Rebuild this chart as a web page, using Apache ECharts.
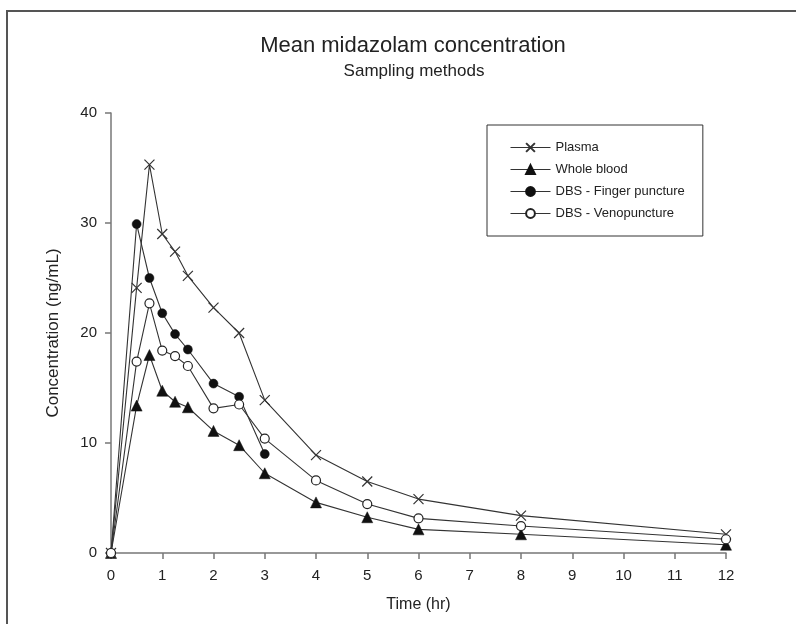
<!DOCTYPE html>
<html>
<head>
<meta charset="utf-8">
<script src="https://cdn.jsdelivr.net/npm/echarts@6/dist/echarts.min.js"></script>
<style>
html,body{margin:0;padding:0;background:#fff;}
#chart{width:796px;height:624px;}
</style>
</head>
<body>
<div id="chart"></div>
<script>
const seriesNames = ['Plasma', 'Whole blood', 'DBS - Finger puncture', 'DBS - Venopuncture'];
const timesFull = [0, 0.5, 0.75, 1, 1.25, 1.5, 2, 2.5, 3, 4, 5, 6, 8, 12];
const timesFinger = [0, 0.5, 0.75, 1, 1.25, 1.5, 2, 2.5, 3];
const plasma = [0, 24.1, 35.3, 29.0, 27.4, 25.2, 22.3, 20.0, 13.9, 8.9, 6.5, 4.9, 3.4, 1.7];
const wholeBlood = [0, 13.4, 18.0, 14.75, 13.75, 13.25, 11.1, 9.8, 7.25, 4.6, 3.25, 2.15, 1.7, 0.75];
const dbsFinger = [0, 29.9, 25.0, 21.8, 19.9, 18.5, 15.4, 14.2, 9.0];
const dbsVeno = [0, 17.4, 22.7, 18.4, 17.9, 17.0, 13.15, 13.5, 10.4, 6.6, 4.45, 3.15, 2.45, 1.25];
const xTicks = [0,1,2,3,4,5,6,7,8,9,10,11,12];
const yTicks = [0,10,20,30,40];

function pairs(xs, ys){ return xs.map((x,i)=>[x, ys[i]]); }

const FONT = 'Liberation Sans, Arial, Helvetica, sans-serif';
const LINE = '#333';
const chart = echarts.init(document.getElementById('chart'), null, {renderer:'canvas'});

const crossPath = 'path://M0,0L10,10M10,0L0,10';

chart.setOption({
  animation: false,
  backgroundColor: '#fff',
  textStyle: {fontFamily: FONT},
  title: [{
    text: 'Mean midazolam concentration',
    left: 408, top: 30, textAlign: 'center',
    textStyle: {fontFamily: FONT, fontSize: 22, fontWeight: 'normal', color: '#222'}
  },{
    text: 'Sampling methods',
    left: 409, top: 58, textAlign: 'center',
    textStyle: {fontFamily: FONT, fontSize: 17, fontWeight: 'normal', color: '#222'}
  }],
  graphic: [{
    type: 'rect', silent: true,
    shape: {x: 7, y: 11, width: 900, height: 700},
    style: {fill: 'none', stroke: '#555', lineWidth: 2}
  }],
  legend: {
    orient: 'vertical',
    left: 487, top: 125,
    padding: [16, 18, 16, 23],
    itemGap: 9,
    itemWidth: 40, itemHeight: 11,
    borderColor: '#333', borderWidth: 1,
    lineStyle: {width: 1},
    textStyle: {fontFamily: FONT, fontSize: 13, color: '#222'},
    data: seriesNames
  },
  grid: {left: 111, right: 70, top: 113, bottom: 71, containLabel: false},
  xAxis: {
    type: 'value', min: 0, max: 12, interval: 1,
    name: 'Time (hr)', nameLocation: 'middle', nameGap: 44,
    nameTextStyle: {fontFamily: FONT, fontSize: 16, color: '#222'},
    axisLine: {show: true, lineStyle: {color: '#777', width: 1.5}},
    axisTick: {show: true, inside: false, length: 6, lineStyle: {color: '#777', width: 1.5}},
    axisLabel: {fontFamily: FONT, fontSize: 15, color: '#222', margin: 15,
      formatter: v => xTicks.includes(v) ? String(v) : ''},
    splitLine: {show: false}
  },
  yAxis: {
    type: 'value', min: 0, max: 40, interval: 10,
    name: 'Concentration (ng/mL)', nameLocation: 'middle', nameGap: 49, nameRotate: 90,
    nameTextStyle: {fontFamily: FONT, fontSize: 17, color: '#222'},
    axisLine: {show: true, lineStyle: {color: '#777', width: 1.5}},
    axisTick: {show: true, inside: false, length: 6, lineStyle: {color: '#777', width: 1.5}},
    axisLabel: {fontFamily: FONT, fontSize: 15, color: '#222', margin: 14,
      formatter: v => yTicks.includes(v) ? String(v) : ''},
    splitLine: {show: false}
  },
  series: [{
    name: seriesNames[0], type: 'line', data: pairs(timesFull, plasma),
    symbol: crossPath, symbolSize: 10,
    lineStyle: {color: LINE, width: 1.1},
    itemStyle: {color: LINE, borderColor: LINE, borderWidth: 1.2},
    z: 4
  },{
    name: seriesNames[1], type: 'line', data: pairs(timesFull, wholeBlood),
    symbol: 'triangle', symbolSize: 11,
    lineStyle: {color: LINE, width: 1.1},
    itemStyle: {color: '#111', borderColor: '#111', borderWidth: 0.5},
    z: 3
  },{
    name: seriesNames[2], type: 'line', data: pairs(timesFinger, dbsFinger),
    symbol: 'circle', symbolSize: 9,
    lineStyle: {color: LINE, width: 1.1},
    itemStyle: {color: '#111', borderColor: '#111', borderWidth: 0.5},
    z: 3
  },{
    name: seriesNames[3], type: 'line', data: pairs(timesFull, dbsVeno),
    symbol: 'circle', symbolSize: 9,
    lineStyle: {color: LINE, width: 1.1},
    itemStyle: {color: '#fff', borderColor: '#222', borderWidth: 1.2},
    z: 5
  }]
});
</script>
</body>
</html>
